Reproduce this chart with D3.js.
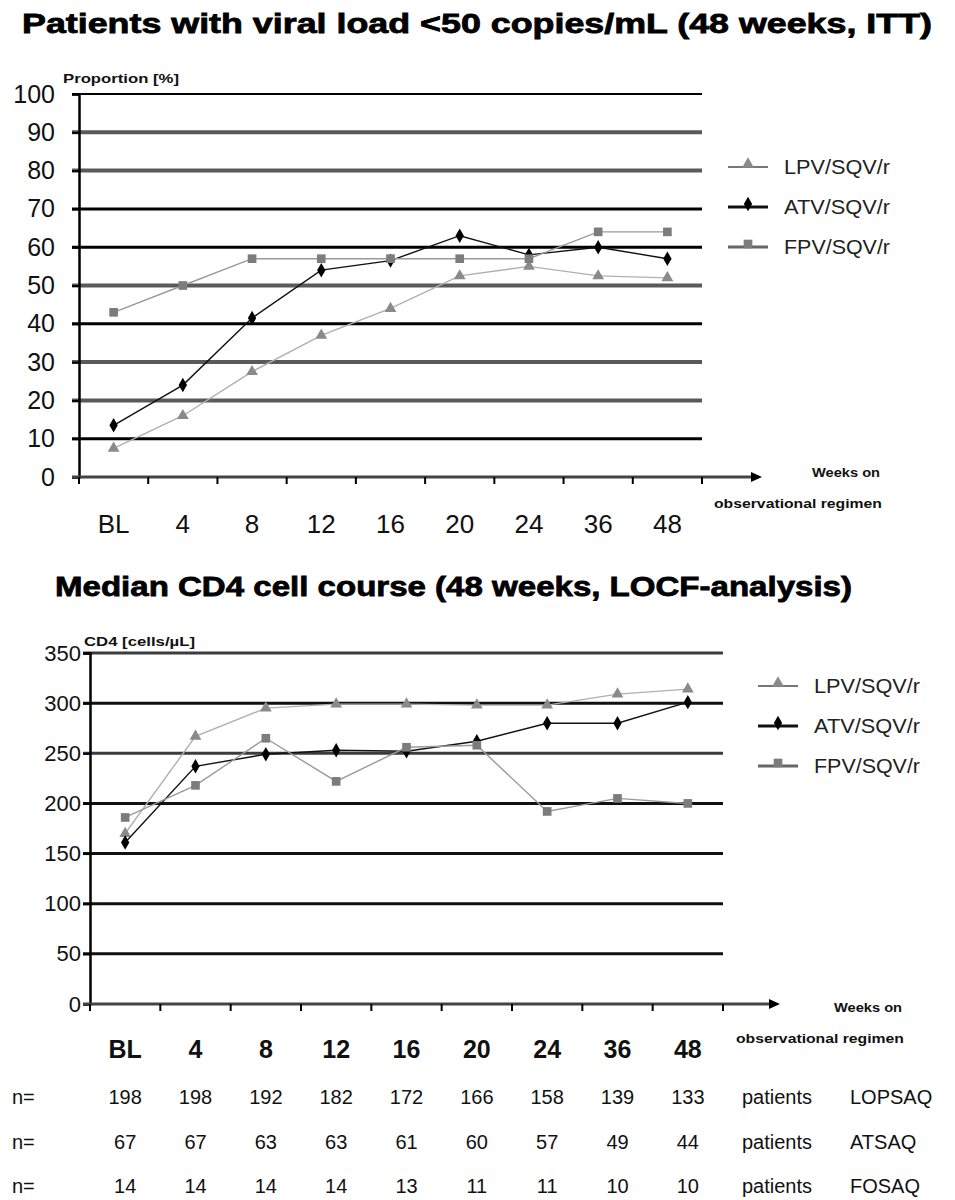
<!DOCTYPE html>
<html lang="en">
<head>
<meta charset="UTF-8">
<title>Viral load and CD4 course</title>
<script src="https://cdnjs.cloudflare.com/ajax/libs/d3/7.9.0/d3.min.js"></script>
<style>
    body { margin: 0; background: #fff; }
    svg { display: block; font-family: "Liberation Sans", Arial, sans-serif; }
    .title { font-weight: bold; font-size: 28px; stroke: #000; stroke-width: 0.8px; }
    .small { font-weight: bold; font-size: 13px; fill: #111; }
</style>
</head>
<body>
<svg id="chart" width="955" height="1200"></svg>
<script>
    // categories
    const weeks = ["BL", "4", "8", "12", "16", "20", "24", "36", "48"];
    const seriesNames = ["LPV/SQV/r", "ATV/SQV/r", "FPV/SQV/r"];

    // top: % patients with VL < 50 copies/mL
    const vlTicks = [0, 10, 20, 30, 40, 50, 60, 70, 80, 90, 100];
    const vlLPV = [7.5, 16, 27.5, 37, 44, 52.5, 55, 52.5, 52];
    const vlATV = [13.5, 24, 41.5, 54, 56.5, 63, 58, 60, 57];
    const vlFPV = [43, 50, 57, 57, 57, 57, 57, 64, 64];

    // bottom: median CD4 cells/uL
    const cd4Ticks = [0, 50, 100, 150, 200, 250, 300, 350];
    const cd4LPV = [170, 267, 295, 299, 299, 298, 298, 309, 314];
    const cd4ATV = [161, 237, 249, 253, 252, 262, 280, 280, 301];
    const cd4FPV = [186, 218, 265, 222, 256, 258, 192, 205, 200];

    // patient numbers table
    const tableRows = ["LOPSAQ", "ATSAQ", "FOSAQ"];
    const nLOPSAQ = [198, 198, 192, 182, 172, 166, 158, 139, 133];
    const nATSAQ = [67, 67, 63, 63, 61, 60, 57, 49, 44];
    const nFOSAQ = [14, 14, 14, 14, 13, 11, 11, 10, 10];

    const svg = d3.select("#chart");

    // look of each series (line, marker)
    const looks = [
        {line: "#b0b0b0", lw: 1.4, mark: "#8a8a8a", sym: d3.symbolTriangle, size: 60, legLine: "#777", legW: 2},
        {line: "#111", lw: 1.4, mark: "#000", sym: d3.symbolDiamond, size: 60, legLine: "#111", legW: 3},
        {line: "#9a9a9a", lw: 1.4, mark: "#7c7c7c", sym: d3.symbolSquare, size: 75, legLine: "#666", legW: 3}
    ];

    function drawPanel(o) {
        const g = svg.append("g");
        const x = d3.scaleBand().domain(weeks).range([o.left, o.right]);
        const y = d3.scaleLinear().domain(o.domain).range([o.bottom, o.top]);

        // gridlines
        g.selectAll(".grid").data(o.ticks.filter(t => t > 0)).enter().append("line")
            .attr("x1", o.left - 7).attr("x2", o.right)
            .attr("y1", d => y(d)).attr("y2", d => y(d))
            .attr("stroke", d => o.gridColor(d))
            .attr("stroke-width", d => o.gridWidth(d));

        // y axis
        const ya = g.append("g").attr("transform", `translate(${o.left},0)`)
            .call(d3.axisLeft(y).tickValues(o.ticks).tickSize(7).tickPadding(o.labelPad));
        ya.select(".domain").attr("stroke", "#000").attr("stroke-width", 2.5);
        ya.selectAll(".tick line").attr("stroke", "#000").attr("stroke-width", 2);
        ya.selectAll(".tick text").attr("font-size", o.yFont).attr("fill", "#111")
            .attr("font-family", o.yFamily);

        // x axis with arrow and ticks at band edges
        g.append("line").attr("x1", o.left - 7).attr("x2", o.arrowEnd)
            .attr("y1", y(0)).attr("y2", y(0))
            .attr("stroke", "#444").attr("stroke-width", 3);
        g.append("path")
            .attr("d", `M${o.arrowEnd + 4},${y(0)} l-11,-5 l0,10 z`)
            .attr("fill", "#000");
        const edges = weeks.map(w => x(w)).concat([o.right]);
        g.selectAll(".xt").data(edges).enter().append("line")
            .attr("x1", d => d).attr("x2", d => d)
            .attr("y1", y(0)).attr("y2", y(0) + 7)
            .attr("stroke", "#000").attr("stroke-width", 2);

        g.selectAll(".xl").data(weeks).enter().append("text")
            .attr("x", d => x(d) + x.bandwidth() / 2)
            .attr("y", o.xLabelY)
            .attr("text-anchor", "middle")
            .attr("font-size", o.xFont)
            .attr("font-weight", o.xBold ? "bold" : "normal")
            .attr("fill", "#111")
            .text(d => d);

        // small axis captions
        g.append("text").attr("class", "small").attr("x", o.capX).attr("y", o.capY)
            .attr("textLength", o.capLen).attr("lengthAdjust", "spacingAndGlyphs").text(o.caption);
        g.append("text").attr("class", "small").attr("x", o.weeksX).attr("y", o.weeksY)
            .attr("textLength", 68).attr("lengthAdjust", "spacingAndGlyphs").text("Weeks on");
        g.append("text").attr("class", "small").attr("x", o.weeksX - 98).attr("y", o.weeksY + 31)
            .attr("textLength", 168).attr("lengthAdjust", "spacingAndGlyphs").text("observational regimen");

        // series
        const line = d3.line().x((d, i) => x(weeks[i]) + x.bandwidth() / 2).y(d => y(d));
        o.series.forEach((s, k) => {
            const lk = looks[k];
            g.append("path").datum(s).attr("d", line)
                .attr("fill", "none").attr("stroke", lk.line).attr("stroke-width", lk.lw);
            g.selectAll(".m" + k).data(s).enter().append("path")
                .attr("d", d3.symbol().type(lk.sym).size(lk.size))
                .attr("transform", (d, i) => `translate(${x(weeks[i]) + x.bandwidth() / 2},${y(d)})`)
                .attr("fill", lk.mark);
        });

        // legend
        seriesNames.forEach((name, k) => {
            const lk = looks[k];
            const ly = o.legY + k * 40;
            g.append("line").attr("x1", o.legX).attr("x2", o.legX + 40)
                .attr("y1", ly).attr("y2", ly)
                .attr("stroke", lk.legLine).attr("stroke-width", lk.legW);
            g.append("path").attr("d", d3.symbol().type(lk.sym).size(lk.size))
                .attr("transform", `translate(${o.legX + 20},${ly - 3})`)
                .attr("fill", lk.mark);
            g.append("text").attr("x", o.legX + 56).attr("y", ly + 7)
                .attr("font-size", 21).attr("fill", "#222")
                .attr("textLength", 106).attr("lengthAdjust", "spacingAndGlyphs")
                .text(name);
        });
        return x;
    }

    // titles
    svg.append("text").attr("class", "title").attr("x", 22).attr("y", 33)
        .attr("textLength", 910).attr("lengthAdjust", "spacingAndGlyphs")
        .text("Patients with viral load <50 copies/mL (48 weeks, ITT)");
    svg.append("text").attr("class", "title").attr("x", 55).attr("y", 596)
        .attr("textLength", 797).attr("lengthAdjust", "spacingAndGlyphs")
        .text("Median CD4 cell course (48 weeks, LOCF-analysis)");

    const grayTop = [90, 80, 50, 30, 20];
    drawPanel({
        left: 79, right: 702, top: 94, bottom: 477, domain: [0, 100], ticks: vlTicks,
        gridColor: d => grayTop.includes(d) ? "#5a5a5a" : "#000",
        gridWidth: d => grayTop.includes(d) ? 4 : (d === 100 ? 2 : 3),
        labelPad: 17, yFont: 25, yFamily: "Liberation Sans, Arial, sans-serif",
        arrowEnd: 758, xLabelY: 533, xFont: 26, xBold: false,
        caption: "Proportion [%]", capX: 63, capY: 83, capLen: 116,
        weeksX: 812, weeksY: 477,
        series: [vlLPV, vlATV, vlFPV],
        legX: 728, legY: 167
    });

    const grayBottom = [350, 250];
    const xb = drawPanel({
        left: 90, right: 723, top: 653, bottom: 1004, domain: [0, 350], ticks: cd4Ticks,
        gridColor: d => grayBottom.includes(d) ? "#3c3c3c" : "#111",
        gridWidth: d => 3,
        labelPad: 2, yFont: 22, yFamily: "Liberation Sans Narrow, Liberation Sans, Arial, sans-serif",
        arrowEnd: 776, xLabelY: 1058, xFont: 25, xBold: true,
        caption: "CD4 [cells/\u00b5L]", capX: 84, capY: 646, capLen: 111,
        weeksX: 834, weeksY: 1012,
        series: [cd4LPV, cd4ATV, cd4FPV],
        legX: 758, legY: 686
    });

    // table of patient numbers
    const rowsData = [nLOPSAQ, nATSAQ, nFOSAQ];
    rowsData.forEach((row, r) => {
        const ry = 1104 + r * 44.5;
        const tg = svg.append("g").attr("font-size", 20).attr("fill", "#111")
            .attr("font-family", "Liberation Sans Narrow, Liberation Sans, Arial, sans-serif");
        tg.append("text").attr("x", 12).attr("y", ry).text("n=");
        tg.selectAll(".v").data(row).enter().append("text")
            .attr("x", (d, i) => xb(weeks[i]) + xb.bandwidth() / 2)
            .attr("y", ry).attr("text-anchor", "middle").text(d => d);
        tg.append("text").attr("x", 742).attr("y", ry).text("patients");
        tg.append("text").attr("x", 850).attr("y", ry).text(tableRows[r]);
    });
</script>
</body>
</html>
